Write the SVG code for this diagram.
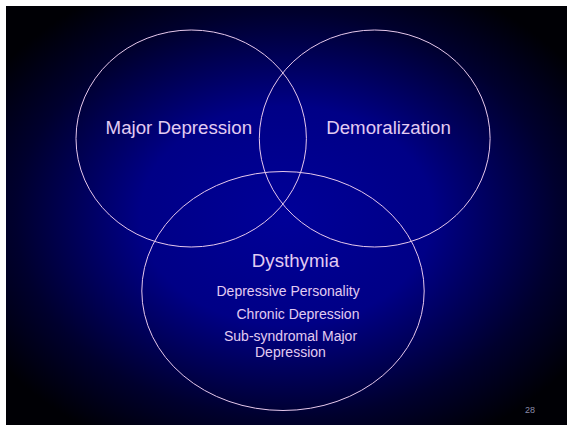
<svg xmlns="http://www.w3.org/2000/svg" width="567" height="426" viewBox="0 0 567 426">
<defs>
<radialGradient id="bg" cx="0.5" cy="0.5" r="0.62" fx="0.5" fy="0.5">
<stop offset="0" stop-color="#000098"/>
<stop offset="0.42" stop-color="#000086"/>
<stop offset="0.78" stop-color="#00002e"/>
<stop offset="1" stop-color="#000005"/>
</radialGradient>
<style>
.c{fill:none;stroke:#e6c8ec;stroke-width:1}
.t{font-family:"Liberation Sans",Arial,sans-serif;fill:#e2ccf2}
.big{font-size:18.7px}
.sm{font-size:14px}
.num{font-family:"Liberation Sans",Arial,sans-serif;font-size:9px;fill:#8a8aa8}
</style>
</defs>
<rect x="0" y="0" width="567" height="426" fill="#ffffff"/>
<rect x="6" y="6" width="561" height="419" fill="url(#bg)"/>
<g id="major-depression">
<ellipse class="c" cx="191.2" cy="138.5" rx="115.2" ry="108.5"/>
<text class="t big" x="105.6" y="134.3">Major Depression</text>
</g>
<g id="demoralization">
<ellipse class="c" cx="374.7" cy="138.5" rx="115.4" ry="108.5"/>
<text class="t big" x="326.2" y="134.3">Demoralization</text>
</g>
<g id="dysthymia">
<ellipse class="c" cx="283" cy="291" rx="141.2" ry="119.5"/>
<text class="t big" x="251.8" y="266.7">Dysthymia</text>
<text class="t sm" x="216.5" y="296">Depressive Personality</text>
<text class="t sm" x="236.5" y="319">Chronic Depression</text>
<text class="t sm" x="224" y="340.7">Sub-syndromal Major</text>
<text class="t sm" x="255" y="357.3">Depression</text>
</g>
<g id="connectors"/>
<text class="num" x="525" y="413">28</text>
</svg>
